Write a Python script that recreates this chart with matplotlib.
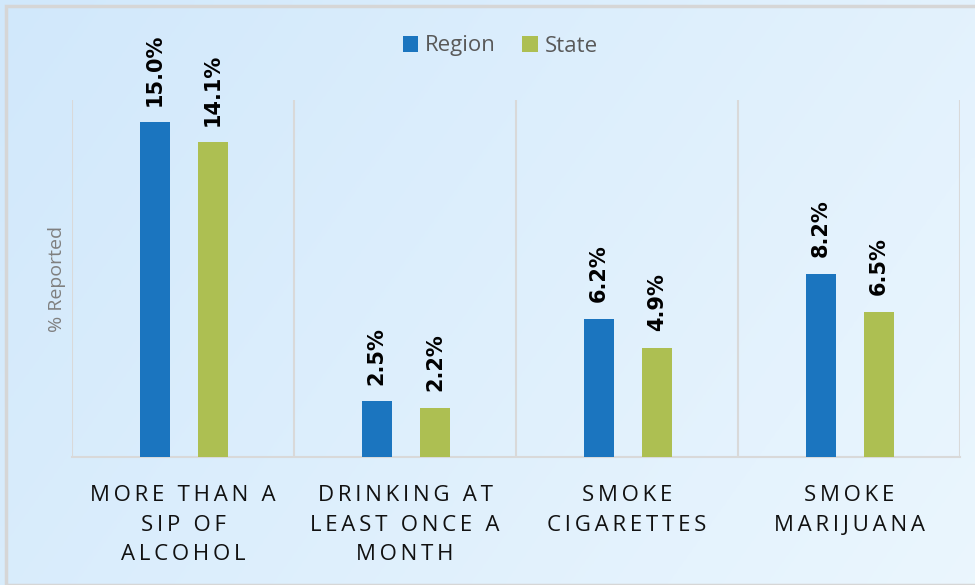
import numpy as np
import matplotlib.pyplot as plt
from matplotlib.patches import Rectangle

categories = ['MORE THAN A\nSIP OF\nALCOHOL', 'DRINKING AT\nLEAST ONCE A\nMONTH',
              'SMOKE\nCIGARETTES', 'SMOKE\nMARIJUANA']
region = [15.0, 2.5, 6.2, 8.2]
state = [14.1, 2.2, 4.9, 6.5]
series_names = ['Region', 'State']

blue = '#1b75bf'
green = '#adbf52'
grid_col = '#d9d9d9'


def spaced(s):
    # widen letter spacing with thin spaces
    return '\n'.join('\u2009'.join(line) for line in s.split('\n'))


fig = plt.figure(figsize=(9.75, 5.85), dpi=100)

# light blue diagonal gradient background
bg = fig.add_axes([0, 0, 1, 1], zorder=-10)
xx, yy = np.meshgrid(np.linspace(0, 1, 200), np.linspace(0, 1, 200))
g = (xx * 0.7 + yy * 0.3)
c0 = np.array([0.82, 0.91, 0.985])
c1 = np.array([0.92, 0.965, 0.995])
img = c0[None, None, :] * (1 - g[..., None]) + c1[None, None, :] * g[..., None]
bg.imshow(img, aspect='auto', extent=[0, 1, 0, 1], origin='upper')
bg.add_patch(Rectangle((6 / 975, 0.0), 1.0, 1 - 6 / 585, fill=False,
                       edgecolor='#d6d6d6', lw=2.5, transform=bg.transAxes))
bg.set_axis_off()

ax = fig.add_axes([72 / 975, 1 - 457 / 585, 888 / 975, 357 / 585])
ax.patch.set_alpha(0)
x = np.arange(len(categories))
w = 0.135
b1 = ax.bar(x - 0.127, region, w, color=blue, label=series_names[0], zorder=3)
b2 = ax.bar(x + 0.135, state, w, color=green, label=series_names[1], zorder=3)

for bars, vals in ((b1, region), (b2, state)):
    for rect, v in zip(bars, vals):
        ax.annotate(f'{v:.1f}%', (rect.get_x() + rect.get_width() / 2, v),
                    xytext=(0, 12), textcoords='offset points', rotation=90,
                    ha='center', va='bottom', fontsize=15, fontweight='bold',
                    family='DejaVu Sans', color='black')

ax.set_xlim(-0.5, len(categories) - 0.5)
ax.set_ylim(0, 16)
for b in np.arange(-0.5, len(categories), 1.0):
    ax.axvline(b, color=grid_col, lw=1.5, zorder=1)
for s in ['top', 'right', 'left']:
    ax.spines[s].set_visible(False)
ax.spines['bottom'].set_color(grid_col)
ax.spines['bottom'].set_linewidth(1.5)
ax.set_yticks([])
ax.set_xticks(x)
ax.set_xticklabels([spaced(c) for c in categories], fontsize=16, family='Open Sans',
                   color='#111111', linespacing=1.55)
ax.tick_params(axis='x', length=0, pad=20)
ax.set_ylabel('% Reported', fontsize=14, color='#7f7f7f', family='Open Sans', labelpad=4)

leg = fig.legend(loc='center', bbox_to_anchor=(0.513, 1 - 46 / 585), ncol=2, frameon=False,
                 prop={'family': 'Open Sans', 'size': 16}, handlelength=0.7,
                 handleheight=0.7, handletextpad=0.3, columnspacing=1.2)
for t in leg.get_texts():
    t.set_color('#595959')

fig.savefig('out.png', dpi=100)
